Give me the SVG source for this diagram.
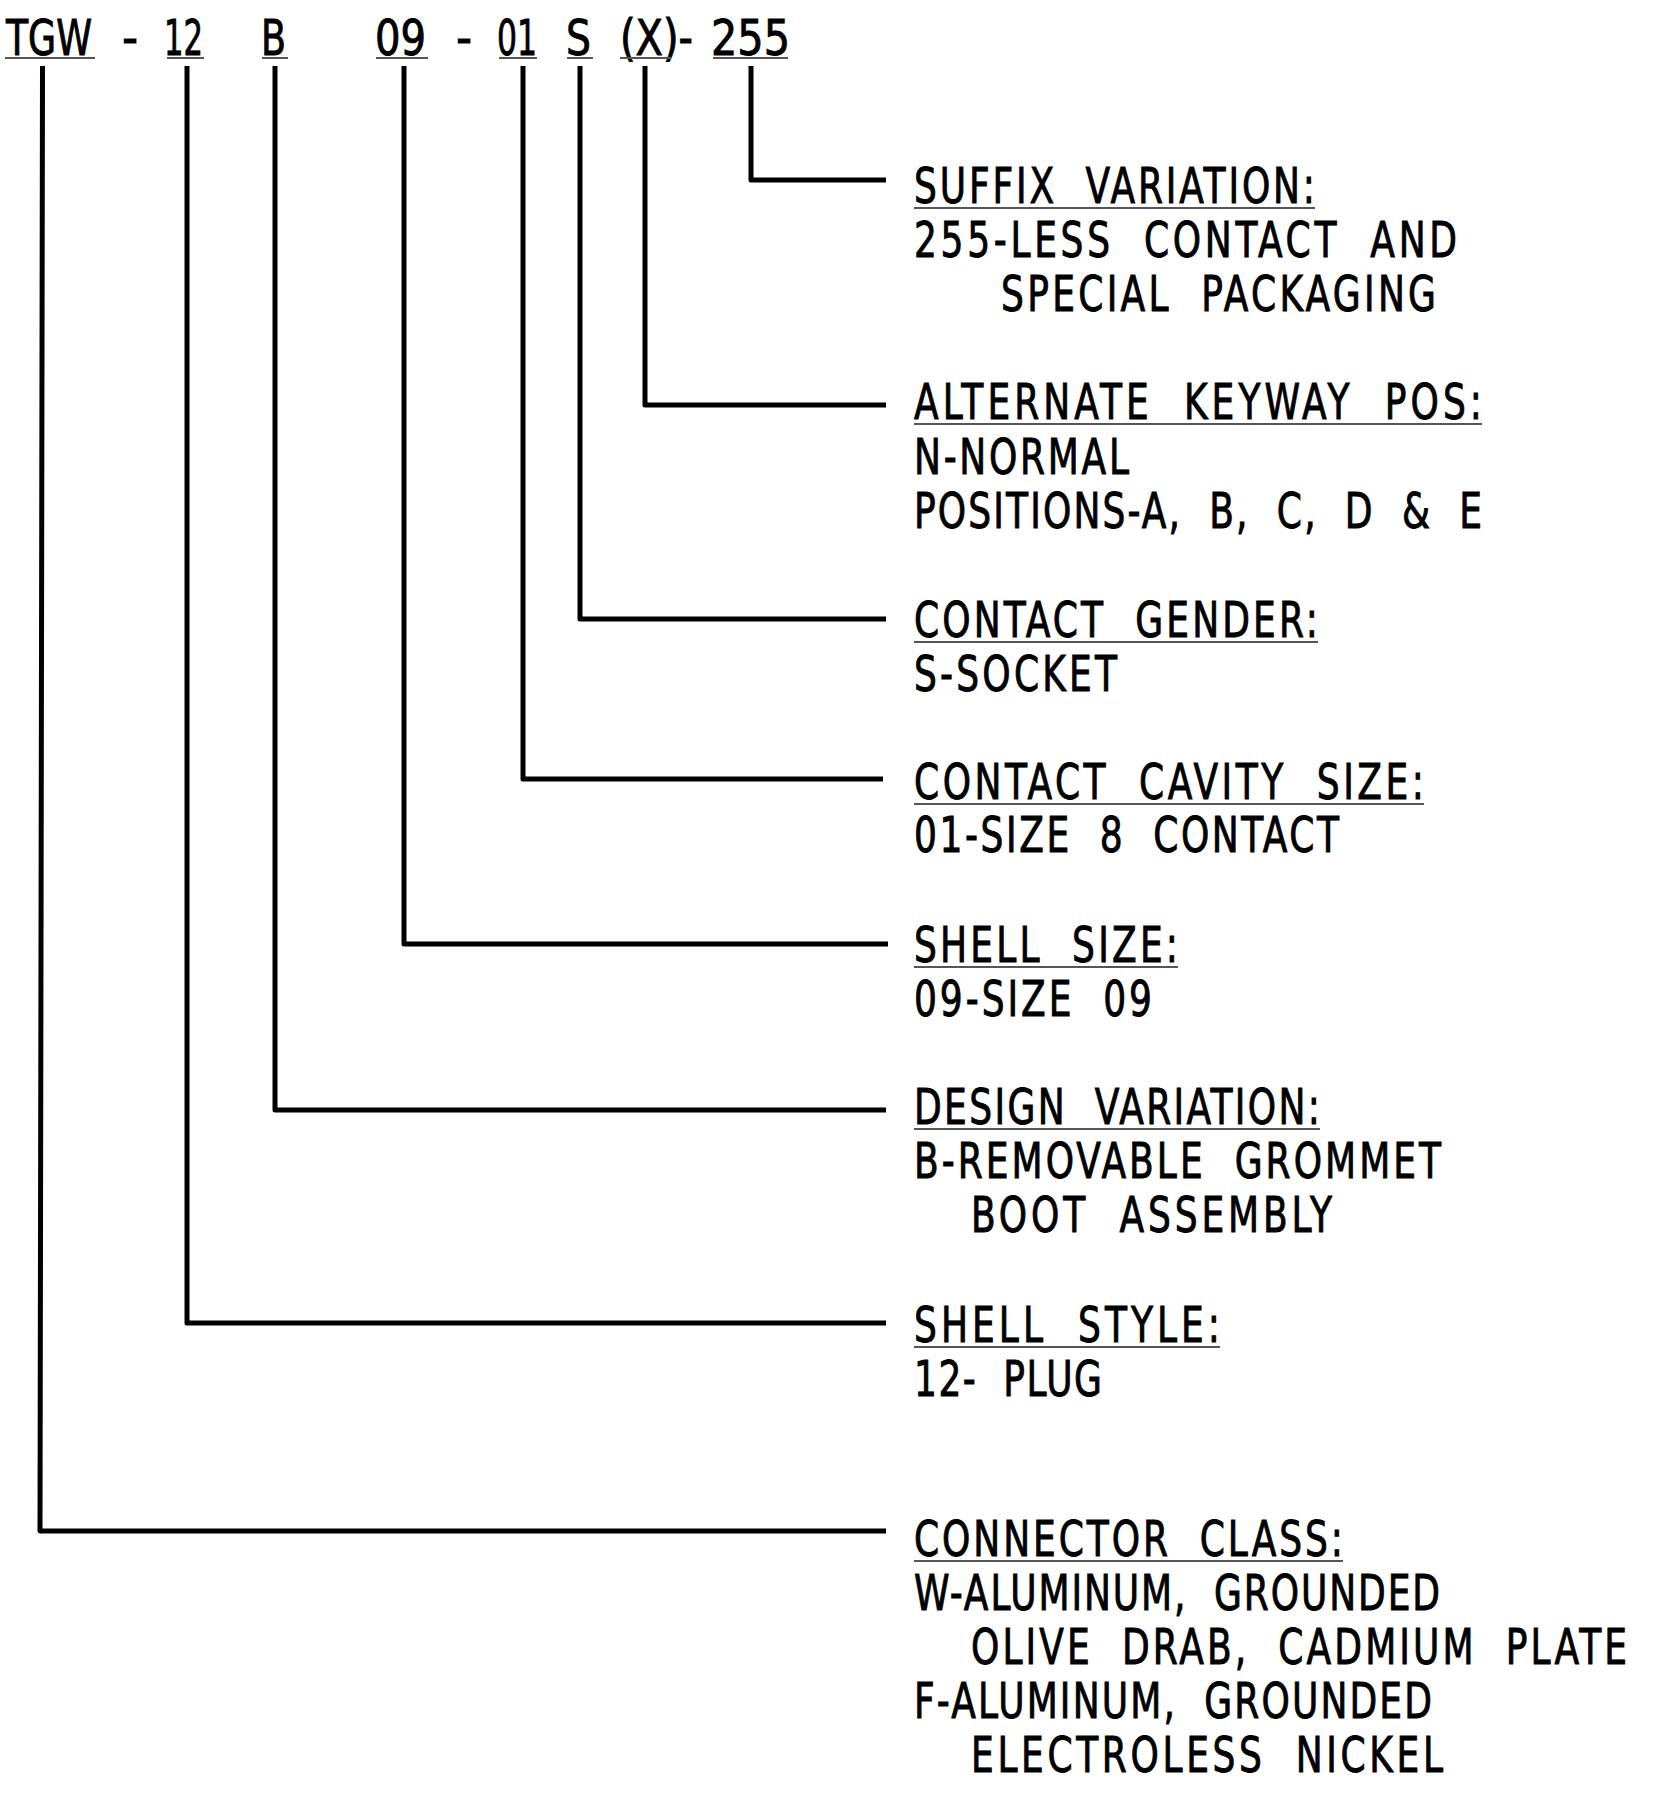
<svg xmlns="http://www.w3.org/2000/svg" width="1669" height="1796" viewBox="0 0 1669 1796">
<style>
.t{font-family:"Liberation Sans Narrow","DejaVu Sans Condensed","Liberation Sans",sans-serif;font-size:50px;fill:#000;stroke:#000;stroke-width:0.9px;white-space:pre}
.u{stroke:#555;stroke-width:2;fill:none}
.c{stroke:#000;stroke-width:5;fill:none;stroke-linejoin:round;stroke-linecap:butt}
</style>
<rect width="1669" height="1796" fill="#fff"/>
<g id="header">
<text class="t" transform="translate(6,55) scale(0.8,1)" textLength="107.5" lengthAdjust="spacingAndGlyphs">TGW</text>
<text class="t" x="122" y="55">-</text>
<text class="t" transform="translate(164,55) scale(0.8,1)" textLength="48.75" lengthAdjust="spacingAndGlyphs">12</text>
<text class="t" transform="translate(261,55) scale(0.8,1)" textLength="31.25" lengthAdjust="spacingAndGlyphs">B</text>
<text class="t" transform="translate(375,55) scale(0.8,1)" textLength="63.75" lengthAdjust="spacingAndGlyphs">09</text>
<text class="t" x="456" y="55">-</text>
<text class="t" transform="translate(497,55) scale(0.8,1)" textLength="50" lengthAdjust="spacingAndGlyphs">01</text>
<text class="t" transform="translate(566,55) scale(0.8,1)" textLength="31.25" lengthAdjust="spacingAndGlyphs">S</text>
<text class="t" transform="translate(620,55) scale(0.8,1)" textLength="91.25" lengthAdjust="spacingAndGlyphs">(X)-</text>
<text class="t" transform="translate(711,55) scale(0.8,1)" textLength="98.75" lengthAdjust="spacingAndGlyphs">255</text>
<path class="u" d="M5 58H95M167 58H204M262 58H288M376 58H428M499 58H537M567 58H593M620 58H671M713 58H788"/>
</g>
<g id="connectors">
<path class="c" d="M751 66V180H886"/>
<path class="c" d="M645 66V405H886"/>
<path class="c" d="M580 66V619H886"/>
<path class="c" d="M523 66V779H883"/>
<path class="c" d="M404 66V944H888"/>
<path class="c" d="M275 66V1110H886"/>
<path class="c" d="M187 66V1323H886"/>
<path class="c" d="M42.5 66L40 1531H886"/>
</g>
<g id="suffix">
<text class="t" transform="translate(914,203) scale(0.8,1)" textLength="501.25" lengthAdjust="spacing">SUFFIX  VARIATION:</text>
<path class="u" d="M914 208H1315"/>
<text class="t" transform="translate(914,257) scale(0.8,1)" textLength="678.75" lengthAdjust="spacing">255-LESS  CONTACT  AND</text>
<text class="t" transform="translate(1001,311) scale(0.8,1)" textLength="543.75" lengthAdjust="spacing">SPECIAL  PACKAGING</text>
</g>
<g id="keyway">
<text class="t" transform="translate(914,419) scale(0.8,1)" textLength="710" lengthAdjust="spacing">ALTERNATE  KEYWAY  POS:</text>
<path class="u" d="M914 424H1482"/>
<text class="t" transform="translate(914,474) scale(0.8,1)" textLength="268.75" lengthAdjust="spacing">N-NORMAL</text>
<text class="t" transform="translate(914,528) scale(0.8,1)" textLength="710" lengthAdjust="spacing">POSITIONS-A,  B,  C,  D  &amp;  E</text>
</g>
<g id="gender">
<text class="t" transform="translate(914,637) scale(0.8,1)" textLength="505" lengthAdjust="spacing">CONTACT  GENDER:</text>
<path class="u" d="M914 642H1318"/>
<text class="t" transform="translate(914,691) scale(0.8,1)" textLength="253.75" lengthAdjust="spacing">S-SOCKET</text>
</g>
<g id="cavity">
<text class="t" transform="translate(914,799) scale(0.8,1)" textLength="637.5" lengthAdjust="spacing">CONTACT  CAVITY  SIZE:</text>
<path class="u" d="M914 804H1424"/>
<text class="t" transform="translate(914,852) scale(0.8,1)" textLength="531.25" lengthAdjust="spacing">01-SIZE  8  CONTACT</text>
</g>
<g id="shellsize">
<text class="t" transform="translate(914,962) scale(0.8,1)" textLength="330" lengthAdjust="spacing">SHELL  SIZE:</text>
<path class="u" d="M914 967H1178"/>
<text class="t" transform="translate(914,1016) scale(0.8,1)" textLength="297.5" lengthAdjust="spacing">09-SIZE  09</text>
</g>
<g id="design">
<text class="t" transform="translate(914,1124) scale(0.8,1)" textLength="507.5" lengthAdjust="spacing">DESIGN  VARIATION:</text>
<path class="u" d="M914 1129H1320"/>
<text class="t" transform="translate(914,1178) scale(0.8,1)" textLength="658.75" lengthAdjust="spacing">B-REMOVABLE  GROMMET</text>
<text class="t" transform="translate(971,1232) scale(0.8,1)" textLength="451.25" lengthAdjust="spacing">BOOT  ASSEMBLY</text>
</g>
<g id="shellstyle">
<text class="t" transform="translate(914,1342) scale(0.8,1)" textLength="382.5" lengthAdjust="spacing">SHELL  STYLE:</text>
<path class="u" d="M914 1347H1220"/>
<text class="t" transform="translate(914,1396) scale(0.8,1)" textLength="235" lengthAdjust="spacing">12-  PLUG</text>
</g>
<g id="class">
<text class="t" transform="translate(914,1556) scale(0.8,1)" textLength="536.25" lengthAdjust="spacing">CONNECTOR  CLASS:</text>
<path class="u" d="M914 1561H1343"/>
<text class="t" transform="translate(914,1610) scale(0.8,1)" textLength="657.5" lengthAdjust="spacing">W-ALUMINUM,  GROUNDED</text>
<text class="t" transform="translate(971,1664) scale(0.8,1)" textLength="820" lengthAdjust="spacing">OLIVE  DRAB,  CADMIUM  PLATE</text>
<text class="t" transform="translate(914,1718) scale(0.8,1)" textLength="647.5" lengthAdjust="spacing">F-ALUMINUM,  GROUNDED</text>
<text class="t" transform="translate(971,1772) scale(0.8,1)" textLength="590" lengthAdjust="spacing">ELECTROLESS  NICKEL</text>
</g>
</svg>
